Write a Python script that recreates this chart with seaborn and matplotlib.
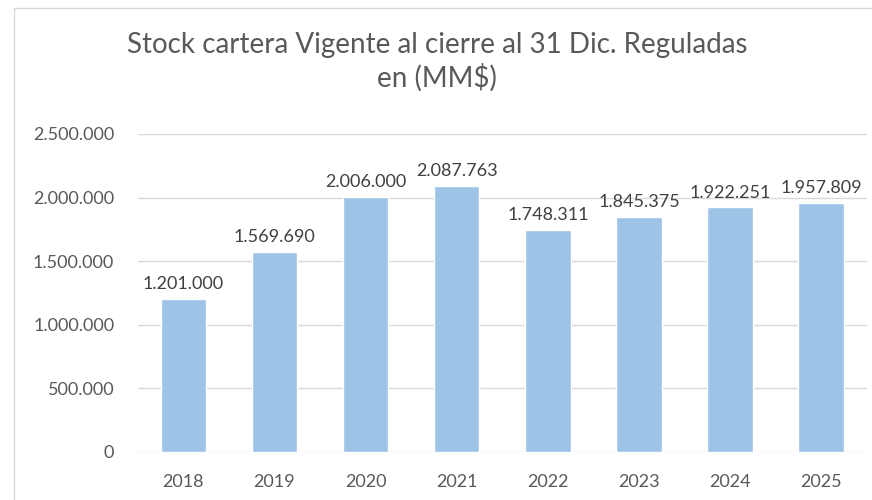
import matplotlib
matplotlib.use("Agg")
import matplotlib.pyplot as plt
import seaborn as sns
import pandas as pd
from matplotlib.ticker import FuncFormatter
from matplotlib.lines import Line2D

years = ["2018", "2019", "2020", "2021", "2022", "2023", "2024", "2025"]
stock = [1201000, 1569690, 2006000, 2087763, 1748311, 1845375, 1922251, 1957809]
y_ticks = [0, 500000, 1000000, 1500000, 2000000, 2500000]
title = "Stock cartera Vigente al cierre al 31 Dic. Reguladas\nen (MM$)"

def miles(v):
    # Spanish thousands separator
    return f"{int(round(v)):,}".replace(",", ".")

sns.set_theme(style="white")
plt.rcParams['font.family'] = ['Lato', 'DejaVu Sans']

df = pd.DataFrame({"year": years, "stock": stock})

fig = plt.figure(figsize=(8.72, 5), dpi=100)
ax = fig.add_axes([0.158, 0.096, 0.836, 0.636])

sns.barplot(data=df, x="year", y="stock", color="#9DC3E6", width=0.5,
            saturation=1, ax=ax, zorder=3)

ax.set_ylim(0, 2500000)
ax.set_yticks(y_ticks)
ax.yaxis.set_major_formatter(FuncFormatter(lambda v, p: miles(v)))
ax.grid(axis="y", color="#D9D9D9", linewidth=1, zorder=0)
ax.set_axisbelow(True)
for s in ax.spines.values():
    s.set_visible(False)
ax.set_xlabel("")
ax.set_ylabel("")
ax.tick_params(axis="both", colors="#595959", labelsize=13, length=0)
ax.tick_params(axis="y", pad=17)
ax.tick_params(axis="x", pad=16)

for i, v in enumerate(stock):
    ax.annotate(miles(v), (i, v), xytext=(0, 5), textcoords="offset points",
                ha="center", va="bottom", fontsize=13, color="#404040")

fig.text(0.501, 0.876, title, ha="center", va="center", fontsize=20,
         color="#595959", linespacing=1.25)

# chart area border (left and top visible)
fig.add_artist(Line2D([14/872, 14/872], [0, 1 - 8/500], transform=fig.transFigure,
                      color="#D9D9D9", linewidth=1))
fig.add_artist(Line2D([14/872, 1], [1 - 8/500, 1 - 8/500], transform=fig.transFigure,
                      color="#D9D9D9", linewidth=1))

fig.savefig("out.png", dpi=100)
